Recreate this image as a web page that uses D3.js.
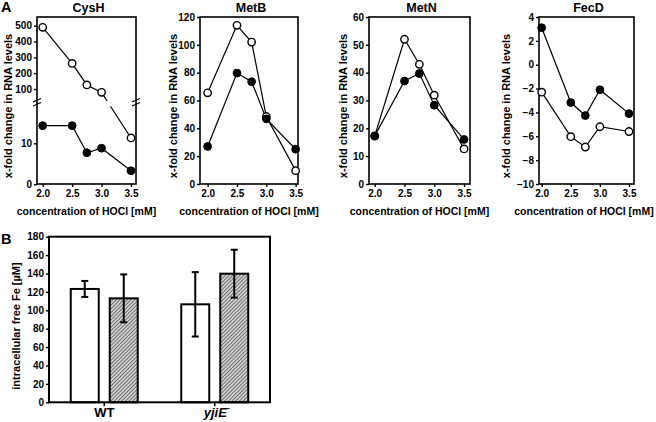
<!DOCTYPE html>
<html><head><meta charset="utf-8">
<script src="https://cdn.jsdelivr.net/npm/d3@7"></script>
<style>
body{margin:0;background:#fff}
svg{display:block}
text{font-family:"Liberation Sans",Arial,Helvetica,sans-serif;font-weight:bold;fill:#000}
</style>
</head><body>
<svg id="c" width="656" height="422"></svg>
<script>
// ---------- DATA ----------
const hocl = [2.0, 2.5, 2.75, 3.0, 3.5];
const xTickVals = [2.0, 2.5, 3.0, 3.5];

const cysHOpen   = [490, 262, 126, 79, 11.3];
const cysHFilled = [14.3, 14.3, 7.7, 8.8, 3.3];
const metBOpen   = [65.5, 114, 102, 48.5, 9.6];
const metBFilled = [27, 79.7, 73.5, 46.8, 25];
const metNOpen   = [17.2, 52, 43, 31.9, 12.6];
const metNFilled = [17.3, 37, 39.7, 28.3, 16];
const fecDOpen   = [-2.3, -6.03, -6.9, -5.2, -5.6];
const fecDFilled = [3.1, -3.17, -4.26, -2.1, -4.1];

const cysHUpperTicks = [100, 200, 300, 400, 500];
const cysHLowerTicks = [0, 10];
const metBTicks = [0, 20, 40, 60, 80, 100, 120];
const metNTicks = [0, 10, 20, 30, 40, 50, 60];
const fecDTicks = [-10, -8, -6, -4, -2, 0, 2, 4];

const groups = ["WT", "yjiE"];
const feControl = [123.2, 106.5];
const feControlErr = [8.7, 35];
const feTreated = [113, 139.8];
const feTreatedErr = [26, 26];
const feTicks = [0, 20, 40, 60, 80, 100, 120, 140, 160, 180];

// ---------- LAYOUT ----------
const svg = d3.select("#c");
const pTop = 17, pBottom = 184;

const panels = [
  {name:"CysH", open:cysHOpen, filled:cysHFilled, left:37, right:136, xd:[1.903,3.585], yt:12, broken:true},
  {name:"MetB", open:metBOpen, filled:metBFilled, left:200, right:298, xd:[1.87,3.54], yd:[0,120], ticks:metBTicks, yt:176.5},
  {name:"MetN", open:metNOpen, filled:metNFilled, left:369, right:470, xd:[1.904,3.6], yd:[0,60], ticks:metNTicks, yt:347},
  {name:"FecD", open:fecDOpen, filled:fecDFilled, left:539, right:634, xd:[1.954,3.586], yd:[-10,4], ticks:fecDTicks, yt:510}
];

svg.append("text").attr("x",1).attr("y",12).style("font-size","14.5px").text("A");
svg.append("text").attr("x",1).attr("y",244).style("font-size","14.5px").text("B");

function styleAxis(g){
  g.selectAll(".domain").remove();
  g.selectAll(".tick line").attr("stroke","#000").attr("stroke-width",1.4);
  g.selectAll(".tick text").style("font-size","10px").style("font-family",'"Liberation Sans",Arial,sans-serif').style("font-weight","bold");
}

const defs = svg.append("defs");

panels.forEach((p,pi)=>{
  const g = svg.append("g");
  const x = d3.scaleLinear().domain(p.xd).range([p.left, p.right]);
  let y, yUp, yLo;
  if(p.broken){
    yUp = d3.scaleLinear().domain([20, 555]).range([101.7, pTop]);
    yLo = d3.scaleLinear().domain([0, 20]).range([184.3, 102.3]);
    y = v => v > 20 ? yUp(v) : yLo(v);
  } else {
    y = d3.scaleLinear().domain(p.yd).range([pBottom, pTop]);
  }

  const xa = g.append("g").attr("transform",`translate(0,${pBottom})`)
    .call(d3.axisBottom(x).tickValues(xTickVals).tickFormat(d3.format(".1f")).tickSize(3).tickPadding(3));
  styleAxis(xa);
  if(p.broken){
    const ya1 = g.append("g").attr("transform",`translate(${p.left},0)`)
      .call(d3.axisLeft(yUp).tickValues(cysHUpperTicks).tickSize(3).tickPadding(2));
    styleAxis(ya1);
    const ya2 = g.append("g").attr("transform",`translate(${p.left},0)`)
      .call(d3.axisLeft(yLo).tickValues(cysHLowerTicks).tickSize(3).tickPadding(2));
    styleAxis(ya2);
  } else {
    const ya = g.append("g").attr("transform",`translate(${p.left},0)`)
      .call(d3.axisLeft(y).tickValues(p.ticks).tickSize(3).tickPadding(2));
    styleAxis(ya);
  }

  g.append("rect").attr("x",p.left).attr("y",pTop).attr("width",p.right-p.left).attr("height",pBottom-pTop)
    .attr("fill","none").attr("stroke","#000").attr("stroke-width",1.6);

  if(p.broken){
    [p.left, p.right].forEach(sx=>{
      [0,4].forEach(off=>{
        g.append("line").attr("x1",sx-4).attr("y1",102+off).attr("x2",sx+4).attr("y2",98.5+off)
          .attr("stroke","#000").attr("stroke-width",1.2);
      });
    });
    const cp = defs.append("clipPath").attr("id","brk");
    cp.append("rect").attr("x",0).attr("y",0).attr("width",656).attr("height",101);
    cp.append("rect").attr("x",0).attr("y",106.5).attr("width",656).attr("height",200);
  }

  const line = d3.line().x((d,i)=>x(hocl[i])).y(d=>y(d));
  [p.open, p.filled].forEach(s=>{
    const path = g.append("path").attr("d",line(s)).attr("fill","none").attr("stroke","#000").attr("stroke-width",1.2);
    if(p.broken) path.attr("clip-path","url(#brk)");
  });
  g.selectAll(".o").data(p.open).join("circle").attr("cx",(d,i)=>x(hocl[i])).attr("cy",d=>y(d))
    .attr("r",3.7).attr("fill","#fff").attr("stroke","#000").attr("stroke-width",1.4);
  g.selectAll(".f").data(p.filled).join("circle").attr("cx",(d,i)=>x(hocl[i])).attr("cy",d=>y(d))
    .attr("r",3.9).attr("fill","#000").attr("stroke","#000").attr("stroke-width",1);

  const cx = (p.left+p.right)/2;
  g.append("text").attr("x",cx+2).attr("y",12).attr("text-anchor","middle").style("font-size","12.5px").text(p.name);
  g.append("text").attr("x",Math.min(cx, 584)).attr("y",215).attr("text-anchor","middle").style("font-size","10.5px").text("concentration of HOCl [mM]");
  g.append("text").attr("transform",`translate(${p.yt},106) rotate(-90)`).attr("text-anchor","middle")
    .style("font-size","11px").text("x-fold change in RNA levels");
});

// ---------- PANEL B ----------
const bL = 49, bR = 270;
const yB = d3.scaleLinear().domain([0,180]).range([402.3, 236.7]);
const x0 = d3.scaleBand().domain(groups).range([bL, bR]).paddingInner(0).paddingOuter(0);
const x1 = d3.scaleBand().domain(["ctrl","trt"]).range([0, x0.bandwidth()]).paddingInner(0.282).paddingOuter(0.558);

const pat = defs.append("pattern").attr("id","hatch").attr("patternUnits","userSpaceOnUse")
  .attr("width",2.6).attr("height",2.6).attr("patternTransform","rotate(45)");
pat.append("rect").attr("width",2.6).attr("height",2.6).attr("fill","#cfcfcf");
pat.append("line").attr("x1",0).attr("y1",0).attr("x2",0).attr("y2",2.6).attr("stroke","#444").attr("stroke-width",1.3);

const gB = svg.append("g");
const yaB = gB.append("g").attr("transform",`translate(${bL},0)`)
  .call(d3.axisLeft(yB).tickValues(feTicks).tickSize(3).tickPadding(2));
styleAxis(yaB);

const bars = groups.map((gname,i)=>[
  {g:gname, s:"ctrl", v:feControl[i], e:feControlErr[i]},
  {g:gname, s:"trt", v:feTreated[i], e:feTreatedErr[i]}
]).flat();

gB.selectAll(".bar").data(bars).join("rect")
  .attr("x",d=>x0(d.g)+x1(d.s)).attr("width",x1.bandwidth())
  .attr("y",d=>yB(d.v)).attr("height",d=>yB(0)-yB(d.v))
  .attr("fill",d=>d.s==="ctrl"?"#fff":"url(#hatch)")
  .attr("stroke","#000").attr("stroke-width",2);

const eb = gB.selectAll(".eb").data(bars).join("g");
eb.append("line").attr("x1",d=>x0(d.g)+x1(d.s)+x1.bandwidth()/2).attr("x2",d=>x0(d.g)+x1(d.s)+x1.bandwidth()/2)
  .attr("y1",d=>yB(d.v+d.e)).attr("y2",d=>yB(d.v-d.e)).attr("stroke","#000").attr("stroke-width",2);
[1,-1].forEach(sg=>{
  eb.append("line").attr("x1",d=>x0(d.g)+x1(d.s)+x1.bandwidth()/2-3.5).attr("x2",d=>x0(d.g)+x1(d.s)+x1.bandwidth()/2+3.5)
    .attr("y1",d=>yB(d.v+sg*d.e)).attr("y2",d=>yB(d.v+sg*d.e)).attr("stroke","#000").attr("stroke-width",2);
});

gB.append("rect").attr("x",bL).attr("y",yB(180)).attr("width",bR-bL).attr("height",yB(0)-yB(180))
  .attr("fill","none").attr("stroke","#000").attr("stroke-width",2);

groups.forEach(gname=>{
  const cxg = x0(gname)+x0.bandwidth()/2;
  gB.append("line").attr("x1",cxg).attr("x2",cxg).attr("y1",yB(0)).attr("y2",yB(0)+4).attr("stroke","#000").attr("stroke-width",1.5);
});
gB.append("text").attr("x",x0("WT")+x0.bandwidth()/2).attr("y",416.5).attr("text-anchor","middle").style("font-size","13px").text("WT");
const t2 = gB.append("text").attr("x",x0("yjiE")+x0.bandwidth()/2+2).attr("y",416.5).attr("text-anchor","middle").style("font-size","13px");
t2.append("tspan").style("font-style","italic").text("yjiE");
t2.append("tspan").attr("dy",-6).style("font-size","9px").text("-");

gB.append("text").attr("transform",`translate(20,326) rotate(-90)`).attr("text-anchor","middle")
  .style("font-size","11px").text("intracellular free Fe [µM]");
</script>
</body></html>
